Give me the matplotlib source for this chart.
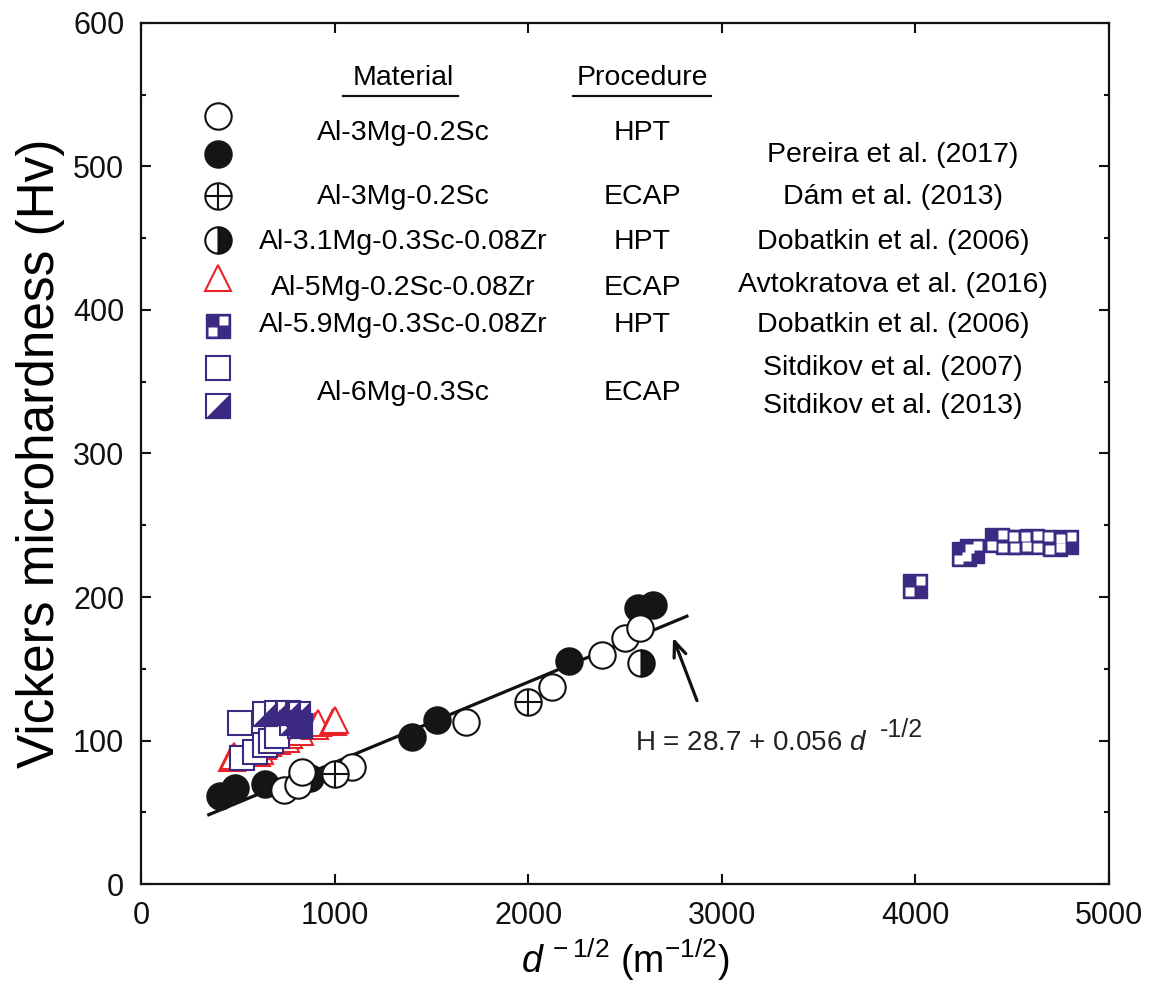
import numpy as np
import matplotlib.pyplot as plt
from matplotlib.path import Path

plt.rcParams['font.family'] = ['Liberation Sans', 'DejaVu Sans']
plt.rcParams['mathtext.fontset'] = 'custom'
plt.rcParams['mathtext.rm'] = 'Liberation Sans'
plt.rcParams['mathtext.it'] = 'Liberation Sans:italic'

PURPLE = '#3c2a82'
RED = '#e8232a'

# Pereira et al. (2017), Al-3Mg-0.2Sc, HPT (open / closed)
hpt_open_x = [739, 811, 832, 1090, 1679, 2123, 2381, 2500, 2577]
hpt_open_y = [65.5, 69, 78, 81.5, 113, 137, 159.6, 171.4, 178.4]
hpt_closed_x = [408, 486, 640, 875, 1399, 1529, 2211, 2567, 2645]
hpt_closed_y = [61.3, 66.9, 69.7, 74, 102.4, 114.3, 155.4, 192, 194.4]
# Dam et al. (2013), Al-3Mg-0.2Sc, ECAP
dam_x = [1000, 2000]
dam_y = [77, 127]
# Dobatkin et al. (2006), Al-3.1Mg-0.3Sc-0.08Zr, HPT
dob31_x = [2583]
dob31_y = [154]
# Avtokratova et al. (2016), Al-5Mg-0.2Sc-0.08Zr, ECAP
avt_x = [470, 482, 600, 615, 630, 640, 655, 700, 750, 765, 785, 800, 820, 900, 915, 990, 1002]
avt_y = [88, 89, 91, 93, 96, 99, 98, 100, 101, 104, 107, 109, 106, 110, 112, 113, 114]
# Dobatkin et al. (2006), Al-5.9Mg-0.3Sc-0.08Zr, HPT
dob59_x = [4000, 4250, 4290, 4420, 4480, 4540, 4600, 4660, 4720, 4780]
dob59_y = [208, 230, 232, 240, 238, 238, 239, 238, 237, 238]
# Sitdikov et al. (2007) and (2013), Al-6Mg-0.3Sc, ECAP
sit07_x = [511, 520, 590, 640, 671, 700]
sit07_y = [112, 88, 92, 97, 100, 103]
sit13_x = [640, 702, 760, 811, 780, 820]
sit13_y = [118.5, 119, 119, 118.5, 112, 110]

# Hall-Petch fit
fit_a, fit_b = 28.7, 0.056
fit_x = np.array([350, 2820])

tri_path = Path([(-1, -1), (1, -1), (1, 1), (-1, -1)],
                [Path.MOVETO, Path.LINETO, Path.LINETO, Path.CLOSEPOLY])
sq = [Path.MOVETO, Path.LINETO, Path.LINETO, Path.LINETO, Path.CLOSEPOLY]
cell_path = Path([(0.04, 0.04), (0.42, 0.04), (0.42, 0.42), (0.04, 0.42), (0.04, 0.04),
                  (-0.42, -0.42), (-0.04, -0.42), (-0.04, -0.04), (-0.42, -0.04), (-0.42, -0.42)],
                 sq + sq)

MS = 19
SQ = 17


def draw(ax, x, y, kind):
    kw = dict(ls='none', zorder=3)
    if kind == 'open':
        ax.plot(x, y, 'o', ms=MS, mfc='white', mec='#111111', mew=1.5, **kw)
    elif kind == 'closed':
        ax.plot(x, y, 'o', ms=MS, mfc='#151515', mec='#151515', mew=1.5, **kw)
    elif kind == 'cross':
        ax.plot(x, y, 'o', ms=MS, mfc='white', mec='#111111', mew=1.5, **kw)
        ax.plot(x, y, '+', ms=MS, mec='#111111', mew=1.5, ls='none', zorder=3)
    elif kind == 'half':
        ax.plot(x, y, 'o', ms=MS, fillstyle='right', mfc='#151515',
                markerfacecoloralt='white', mec='#111111', mew=1.5, **kw)
    elif kind == 'tri':
        ax.plot(x, y, '^', ms=MS, mfc='white', mec=RED, mew=1.5, **kw)
    elif kind == 'checker':
        ax.plot(x, y, 's', ms=SQ, mfc=PURPLE, mec=PURPLE, mew=1.0, **kw)
        ax.plot(x, y, marker=cell_path, ms=SQ * 0.84, mfc='white', mec='none',
                ls='none', zorder=3)
    elif kind == 'square':
        ax.plot(x, y, 's', ms=SQ, mfc='white', mec=PURPLE, mew=1.5, **kw)
    elif kind == 'halfsq':
        ax.plot(x, y, 's', ms=SQ, mfc='white', mec=PURPLE, mew=1.5, **kw)
        ax.plot(x, y, marker=tri_path, ms=SQ, mfc=PURPLE, mec=PURPLE, mew=0.8,
                ls='none', zorder=3)


fig = plt.figure(figsize=(11.53, 9.98), dpi=100)
ax = fig.add_axes([0.1223, 0.1142, 0.8395, 0.8628])

ax.plot(fit_x, fit_a + fit_b * fit_x, color='#111111', lw=2.3, zorder=2)

draw(ax, avt_x, avt_y, 'tri')
draw(ax, sit07_x, sit07_y, 'square')
draw(ax, sit13_x, sit13_y, 'halfsq')
draw(ax, hpt_closed_x, hpt_closed_y, 'closed')
draw(ax, hpt_open_x, hpt_open_y, 'open')
draw(ax, dam_x, dam_y, 'cross')
draw(ax, dob31_x, dob31_y, 'half')
draw(ax, dob59_x, dob59_y, 'checker')

ax.annotate('', xy=(2743, 173.5), xytext=(2877, 126),
            arrowprops=dict(arrowstyle='->,head_length=1.1,head_width=0.45',
                            lw=2.3, color='#111111'))

# table-style legend
FS = 20.5
lx = 398
mat_x, proc_x, ref_x = 1353, 2588, 3884
ax.text(mat_x, 561.7, 'Material', fontsize=FS, ha='center', va='center')
ax.text(proc_x, 561.7, 'Procedure', fontsize=FS, ha='center', va='center')
ax.plot([1043, 1637], [549, 549], color='#111111', lw=1.6)
ax.plot([2231, 2944], [549, 549], color='#111111', lw=1.6)

legend_kinds = ['open', 'closed', 'cross', 'half', 'tri', 'checker', 'square', 'halfsq']
legend_y = [535, 508.7, 479.4, 448.8, 422.3, 388.9, 359.6, 333.1]
for k, yy in zip(legend_kinds, legend_y):
    draw(ax, [lx], [yy], k)

materials = ['Al-3Mg-0.2Sc', 'Al-3Mg-0.2Sc', 'Al-3.1Mg-0.3Sc-0.08Zr',
             'Al-5Mg-0.2Sc-0.08Zr', 'Al-5.9Mg-0.3Sc-0.08Zr', 'Al-6Mg-0.3Sc']
procedures = ['HPT', 'ECAP', 'HPT', 'ECAP', 'HPT', 'ECAP']
row_y = [523.3, 478.7, 447.4, 415.3, 389.5, 342.2]
for m, p, yy in zip(materials, procedures, row_y):
    ax.text(mat_x, yy, m, fontsize=FS, ha='center', va='center')
    ax.text(proc_x, yy, p, fontsize=FS, ha='center', va='center')

refs = ['Pereira et al. (2017)', 'Dám et al. (2013)', 'Dobatkin et al. (2006)',
        'Avtokratova et al. (2016)', 'Dobatkin et al. (2006)',
        'Sitdikov et al. (2007)', 'Sitdikov et al. (2013)']
ref_y = [508.0, 478.7, 447.4, 417.4, 389.5, 359.6, 333.1]
for r, yy in zip(refs, ref_y):
    ax.text(ref_x, yy, r, fontsize=FS, ha='center', va='center')

ax.set_xlim(0, 5000)
ax.set_ylim(0, 600)
ax.set_xticks(np.arange(0, 5001, 1000))
ax.set_yticks(np.arange(0, 601, 100))
ax.set_yticks(np.arange(50, 600, 100), minor=True)
ax.tick_params(which='both', direction='in', top=True, right=True,
               labelsize=22, width=1.5, colors='#111111')
ax.tick_params(which='major', length=7, pad=12)
ax.tick_params(which='minor', length=3.5)
for s in ax.spines.values():
    s.set_linewidth(1.6)
    s.set_color('#111111')

ax.set_xlabel(r'$d^{\,-1/2}$ (m$^{-1/2}$)', fontsize=27, labelpad=4)
ax.set_ylabel('Vickers microhardness (Hv)', fontsize=37, labelpad=6)

# fit equation, exponent placed after the measured end of the main text
eq = ax.text(2552, 93.4, r'H = 28.7 + 0.056 $d$', fontsize=20,
             va='baseline', ha='left', color='#222222')
fig.canvas.draw()
bb = eq.get_window_extent()
base_px = ax.transData.transform((2552, 93.4))[1]
ax.annotate('-1/2', xy=(bb.x1, base_px), xycoords='figure pixels',
            xytext=(9, 9), textcoords='offset points', fontsize=18,
            va='baseline', ha='left', color='#222222')

fig.savefig('out.png', dpi=100)
